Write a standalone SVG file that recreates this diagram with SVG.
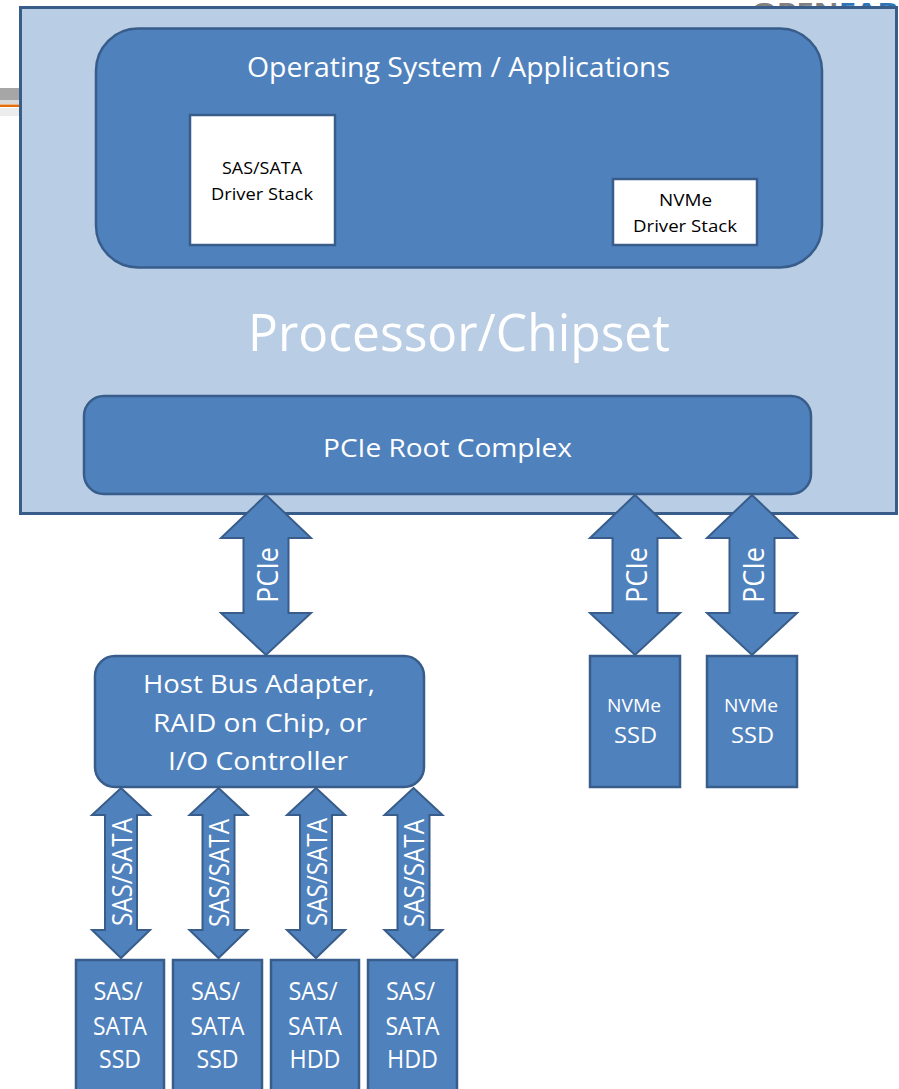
<svg xmlns="http://www.w3.org/2000/svg" width="899" height="1089" viewBox="0 0 899 1089">
<style>
.n{fill:#4F81BD;stroke:#385D8A;stroke-width:2.5}
.a{fill:#4F81BD;stroke:#385D8A;stroke-width:2;stroke-linejoin:miter}
.w{fill:#FFFFFF;stroke:#385D8A;stroke-width:2.5}
text{font-family:"Open Sans","Liberation Sans",sans-serif}
.t{fill:#FFFFFF}
.k{fill:#000000}
.c{text-anchor:middle}
</style>
<rect width="899" height="1089" fill="#FFFFFF"/>
<g id="decor">
<rect x="0" y="88" width="20" height="12" fill="#A6A6A6"/>
<rect x="0" y="100" width="20" height="4" fill="#D9D9D9"/>
<rect x="0" y="104.5" width="20" height="2.5" fill="#E46C0A"/>
<rect x="0" y="108" width="20" height="8" fill="#EDEDED"/>
<text x="752" y="18" font-size="22" font-weight="bold" textLength="146" lengthAdjust="spacingAndGlyphs"><tspan fill="#808080">OPEN</tspan><tspan fill="#2E75B6">FAB</tspan></text>
</g>
<g id="processor">
<rect x="20.5" y="7.5" width="876" height="506" fill="#B9CDE5" stroke="#385D8A" stroke-width="3"/>
<text class="t" x="248" y="351" font-size="52" textLength="422" lengthAdjust="spacingAndGlyphs">Processor/Chipset</text>
</g>
<g id="os">
<rect class="n" x="96" y="28.5" width="726" height="239" rx="42"/>
<text class="t" x="247" y="77" font-size="28" textLength="423" lengthAdjust="spacingAndGlyphs">Operating System / Applications</text>
</g>
<g id="sas-driver">
<rect class="w" x="190" y="115" width="145" height="130"/>
<text class="k c" x="262" y="174" font-size="16" textLength="80" lengthAdjust="spacingAndGlyphs">SAS/SATA</text>
<text class="k c" x="262" y="200" font-size="16" textLength="102" lengthAdjust="spacingAndGlyphs">Driver Stack</text>
</g>
<g id="nvme-driver">
<rect class="w" x="613" y="179" width="144" height="66"/>
<text class="k c" x="685.5" y="206" font-size="16" textLength="53" lengthAdjust="spacingAndGlyphs">NVMe</text>
<text class="k c" x="685" y="232" font-size="16" textLength="104" lengthAdjust="spacingAndGlyphs">Driver Stack</text>
</g>
<g id="root-complex">
<rect class="n" x="84" y="396" width="727" height="98" rx="20"/>
<text class="t" x="323" y="457" font-size="26" textLength="249" lengthAdjust="spacingAndGlyphs">PCIe Root Complex</text>
</g>
<g id="hba">
<rect class="n" x="95" y="656" width="329" height="131" rx="20"/>
<text class="t c" x="259" y="693" font-size="25" textLength="232" lengthAdjust="spacingAndGlyphs">Host Bus Adapter,</text>
<text class="t c" x="260" y="732" font-size="25" textLength="214" lengthAdjust="spacingAndGlyphs">RAID on Chip, or</text>
<text class="t c" x="258" y="770" font-size="25" textLength="180" lengthAdjust="spacingAndGlyphs">I/O Controller</text>
</g>
<g id="nvme-ssd-1">
<rect class="n" x="590" y="656" width="90" height="131"/>
<text class="t c" x="634" y="712" font-size="18" textLength="54" lengthAdjust="spacingAndGlyphs">NVMe</text>
<text class="t c" x="635.5" y="743" font-size="22" textLength="43" lengthAdjust="spacingAndGlyphs">SSD</text>
</g>
<g id="nvme-ssd-2">
<rect class="n" x="707" y="656" width="90" height="131"/>
<text class="t c" x="751" y="712" font-size="18" textLength="54" lengthAdjust="spacingAndGlyphs">NVMe</text>
<text class="t c" x="752.5" y="743" font-size="22" textLength="43" lengthAdjust="spacingAndGlyphs">SSD</text>
</g>
<g id="disk-1">
<rect class="n" x="76" y="960" width="88" height="140"/>
<text class="t c" x="118" y="1000" font-size="25" textLength="49" lengthAdjust="spacingAndGlyphs">SAS/</text>
<text class="t c" x="120" y="1035" font-size="25" textLength="54" lengthAdjust="spacingAndGlyphs">SATA</text>
<text class="t c" x="120" y="1068" font-size="25" textLength="42" lengthAdjust="spacingAndGlyphs">SSD</text>
</g>
<g id="disk-2">
<rect class="n" x="173" y="960" width="89" height="140"/>
<text class="t c" x="215.5" y="1000" font-size="25" textLength="49" lengthAdjust="spacingAndGlyphs">SAS/</text>
<text class="t c" x="217.5" y="1035" font-size="25" textLength="54" lengthAdjust="spacingAndGlyphs">SATA</text>
<text class="t c" x="217.5" y="1068" font-size="25" textLength="42" lengthAdjust="spacingAndGlyphs">SSD</text>
</g>
<g id="disk-3">
<rect class="n" x="271" y="960" width="88" height="140"/>
<text class="t c" x="313" y="1000" font-size="25" textLength="49" lengthAdjust="spacingAndGlyphs">SAS/</text>
<text class="t c" x="315" y="1035" font-size="25" textLength="54" lengthAdjust="spacingAndGlyphs">SATA</text>
<text class="t c" x="315" y="1068" font-size="25" textLength="51" lengthAdjust="spacingAndGlyphs">HDD</text>
</g>
<g id="disk-4">
<rect class="n" x="368" y="960" width="89" height="140"/>
<text class="t c" x="410.5" y="1000" font-size="25" textLength="49" lengthAdjust="spacingAndGlyphs">SAS/</text>
<text class="t c" x="412.5" y="1035" font-size="25" textLength="54" lengthAdjust="spacingAndGlyphs">SATA</text>
<text class="t c" x="412.5" y="1068" font-size="25" textLength="51" lengthAdjust="spacingAndGlyphs">HDD</text>
</g>
<g id="connectors">
<polygon class="a" points="266,495 311,538 288.5,538 288.5,613 311,613 266,655 221,613 243.5,613 243.5,538 221,538"/>
<text class="t c" transform="translate(278,575) rotate(-90)" font-size="30" textLength="56" lengthAdjust="spacingAndGlyphs">PCIe</text>
<polygon class="a" points="635,495 680,538 657.5,538 657.5,613 680,613 635,655 590,613 612.5,613 612.5,538 590,538"/>
<text class="t c" transform="translate(647,575) rotate(-90)" font-size="30" textLength="56" lengthAdjust="spacingAndGlyphs">PCIe</text>
<polygon class="a" points="752,495 797,538 774.5,538 774.5,613 797,613 752,655 707,613 729.5,613 729.5,538 707,538"/>
<text class="t c" transform="translate(764,575) rotate(-90)" font-size="30" textLength="56" lengthAdjust="spacingAndGlyphs">PCIe</text>
<polygon class="a" points="121,788 150,815 137,815 137,930 150,930 121,958 92,930 105,930 105,815 92,815"/>
<text class="t c" transform="translate(132,872) rotate(-90)" font-size="28" textLength="108" lengthAdjust="spacingAndGlyphs">SAS/SATA</text>
<polygon class="a" points="218.5,788 247.5,815 234.5,815 234.5,930 247.5,930 218.5,958 189.5,930 202.5,930 202.5,815 189.5,815"/>
<text class="t c" transform="translate(229,873) rotate(-90)" font-size="28" textLength="108" lengthAdjust="spacingAndGlyphs">SAS/SATA</text>
<polygon class="a" points="316,788 345,815 332,815 332,930 345,930 316,958 287,930 300,930 300,815 287,815"/>
<text class="t c" transform="translate(327,872) rotate(-90)" font-size="28" textLength="108" lengthAdjust="spacingAndGlyphs">SAS/SATA</text>
<polygon class="a" points="413.5,788 442.5,815 429.5,815 429.5,930 442.5,930 413.5,958 384.5,930 397.5,930 397.5,815 384.5,815"/>
<text class="t c" transform="translate(424,873) rotate(-90)" font-size="28" textLength="108" lengthAdjust="spacingAndGlyphs">SAS/SATA</text>
</g>
</svg>
